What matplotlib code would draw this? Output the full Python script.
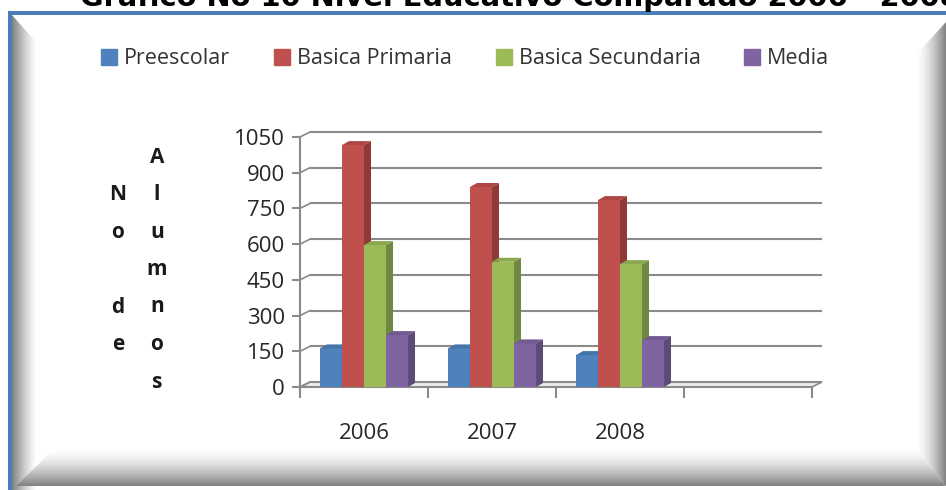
import matplotlib
matplotlib.use('Agg')
import matplotlib.pyplot as plt
import numpy as np
from matplotlib.patches import Polygon, Rectangle
from matplotlib.lines import Line2D
from matplotlib.colors import LinearSegmentedColormap

plt.rcParams['font.family'] = ['Open Sans', 'DejaVu Sans']

# data
years = ['2006', '2007', '2008']
series = ['Preescolar', 'Basica Primaria', 'Basica Secundaria', 'Media']
preescolar = [162, 162, 134]
primaria = [1016, 840, 785]
secundaria = [596, 526, 516]
media = [218, 183, 197]
yticks = [0, 150, 300, 450, 600, 750, 900, 1050]

front = ['#4F81BD', '#C0504D', '#9BBB59', '#8064A2']
side = ['#3A5F8C', '#8E3A37', '#71883F', '#5D4978']
top = ['#4574AA', '#AE4744', '#8AA84F', '#725A91']

W, H = 946, 490
fig = plt.figure(figsize=(W / 100, H / 100), dpi=100)
fig.patch.set_facecolor('white')

# ---- picture frame (pixel coordinates) ----
bg = fig.add_axes([0, 0, 1, 1], zorder=0)
bg.set_xlim(0, W)
bg.set_ylim(H, 0)
bg.axis('off')
greys = LinearSegmentedColormap.from_list('g', ['#ffffff', '#808080'])

def bevel(poly, extent, horizontal, flip=False, power=1.6):
    g = np.linspace(0, 1, 200) ** power
    if flip:
        g = g[::-1]
    arr = g[None, :] if horizontal else g[:, None]
    im = bg.imshow(arr, extent=extent, cmap=greys, vmin=0, vmax=1,
                   aspect='auto', interpolation='bilinear')
    p = Polygon(poly, closed=True, transform=bg.transData, facecolor='none', edgecolor='none')
    bg.add_patch(p)
    im.set_clip_path(p)

# left, right, bottom bevels
bevel([(12, 15), (36, 42), (36, 490), (12, 490)], (12, 36, 490, 0), True, flip=True, power=1.3)
bevel([(946, 22), (916, 55), (916, 450), (946, 486)], (916, 946, 490, 0), True, power=1.6)
bevel([(12, 490), (53, 450), (916, 450), (946, 486), (946, 490)], (0, W, 448, 486), False, flip=True, power=1.6)
bg.add_patch(Rectangle((10, 11), W - 10, 4, color='#4A7EBB', lw=0))
bg.add_patch(Rectangle((8, 11), 4, H - 11, color='#4A7EBB', lw=0))

# title, cut off at the top edge as in the picture
title = fig.text(80 / W, 1 - 6 / H, 'Grafico No 10 Nivel Educativo Comparado 2006 - 2008',
                 fontsize=20, fontweight='bold', va='baseline', ha='left',
                 family='DejaVu Sans', color='black')
r = fig.canvas.get_renderer()
tw = title.get_window_extent(r).width
title.set_fontsize(20 * 882 / tw)

# ---- chart ----
ax = fig.add_axes([300 / W, (H - 387) / H, 512 / W, 250 / H], zorder=2)
ax.set_facecolor('none')
ax.set_xlim(-0.5, 3.5)
ax.set_ylim(0, 1050)

wdx, wdy = 10 / 128, 5 * 1050 / 250      # back wall offset
bdx, bdy = 7 / 128, 4 * 1050 / 250       # bar depth
grid_c = '#8a8a8a'

# floor and back-wall gridlines
ax.add_patch(Polygon([(-0.5, 0), (3.5, 0), (3.5 + wdx, wdy), (-0.5 + wdx, wdy)],
                     closed=True, facecolor='#ececec', edgecolor=grid_c, lw=1.2,
                     clip_on=False, zorder=1))
for v in yticks:
    ax.plot([-0.5 + wdx, 3.5 + wdx], [v + wdy, v + wdy], color=grid_c, lw=1.5,
            clip_on=False, zorder=1, solid_capstyle='butt')
    ax.plot([-0.5, -0.5 + wdx], [v, v + wdy], color=grid_c, lw=1.2, clip_on=False, zorder=1)

x = np.arange(len(years))
bw = 0.172
for i, (name, vals) in enumerate(zip(series, [preescolar, primaria, secundaria, media])):
    bars = ax.bar(x + (i - 1.5) * bw, vals, bw, color=front[i], zorder=3 + i,
                  clip_on=False, linewidth=0)
    for b in bars:
        x0, w, h = b.get_x(), b.get_width(), b.get_height()
        x1 = x0 + w
        ax.add_patch(Polygon([(x1, 0), (x1 + bdx, bdy), (x1 + bdx, h + bdy), (x1, h)],
                             closed=True, facecolor=side[i], lw=0, zorder=3 + i, clip_on=False))
        ax.add_patch(Polygon([(x0, h), (x1, h), (x1 + bdx, h + bdy), (x0 + bdx, h + bdy)],
                             closed=True, facecolor=top[i], lw=0, zorder=3 + i, clip_on=False))

for s in ['top', 'right']:
    ax.spines[s].set_visible(False)
ax.spines['left'].set_bounds(0, 1050)
ax.spines['bottom'].set_bounds(-0.5, 3.5)
for s in ['left', 'bottom']:
    ax.spines[s].set_color(grid_c)
    ax.spines[s].set_linewidth(1.5)

ax.set_yticks(yticks)
ax.tick_params(axis='y', direction='out', length=6, width=1.5, color=grid_c,
               labelsize=16, labelcolor='#262626', pad=5)
ax.set_xticks([-0.5, 0.5, 1.5, 2.5, 3.5])
ax.set_xticklabels([])
ax.tick_params(axis='x', which='major', direction='out', length=8, width=1.5, color=grid_c)
ax.set_xticks(x, minor=True)
ax.set_xticklabels(years, minor=True)
ax.tick_params(axis='x', which='minor', length=0, labelsize=16, labelcolor='#262626', pad=26)

# stacked y-axis label
for k, ch in enumerate('No de'):
    fig.text(118 / W, 1 - (195 + 37.5 * k) / H, ch, ha='center', va='center',
             fontsize=15, fontweight='bold', color='#1a1a1a')
for k, ch in enumerate('Alumnos'):
    fig.text(157 / W, 1 - (157 + 37.5 * k) / H, ch, ha='center', va='center',
             fontsize=15, fontweight='bold', color='#1a1a1a')

# legend
handles = [Line2D([], [], marker='s', ls='', markersize=11, color=c) for c in front]
fig.legend(handles, series, loc='center', bbox_to_anchor=(465 / W, 1 - 59 / H), ncol=4,
           frameon=False, fontsize=15.5, handlelength=0.8, handletextpad=0.3,
           columnspacing=2.0, labelcolor='#333333')

fig.savefig('out.png', dpi=100, facecolor='white')
